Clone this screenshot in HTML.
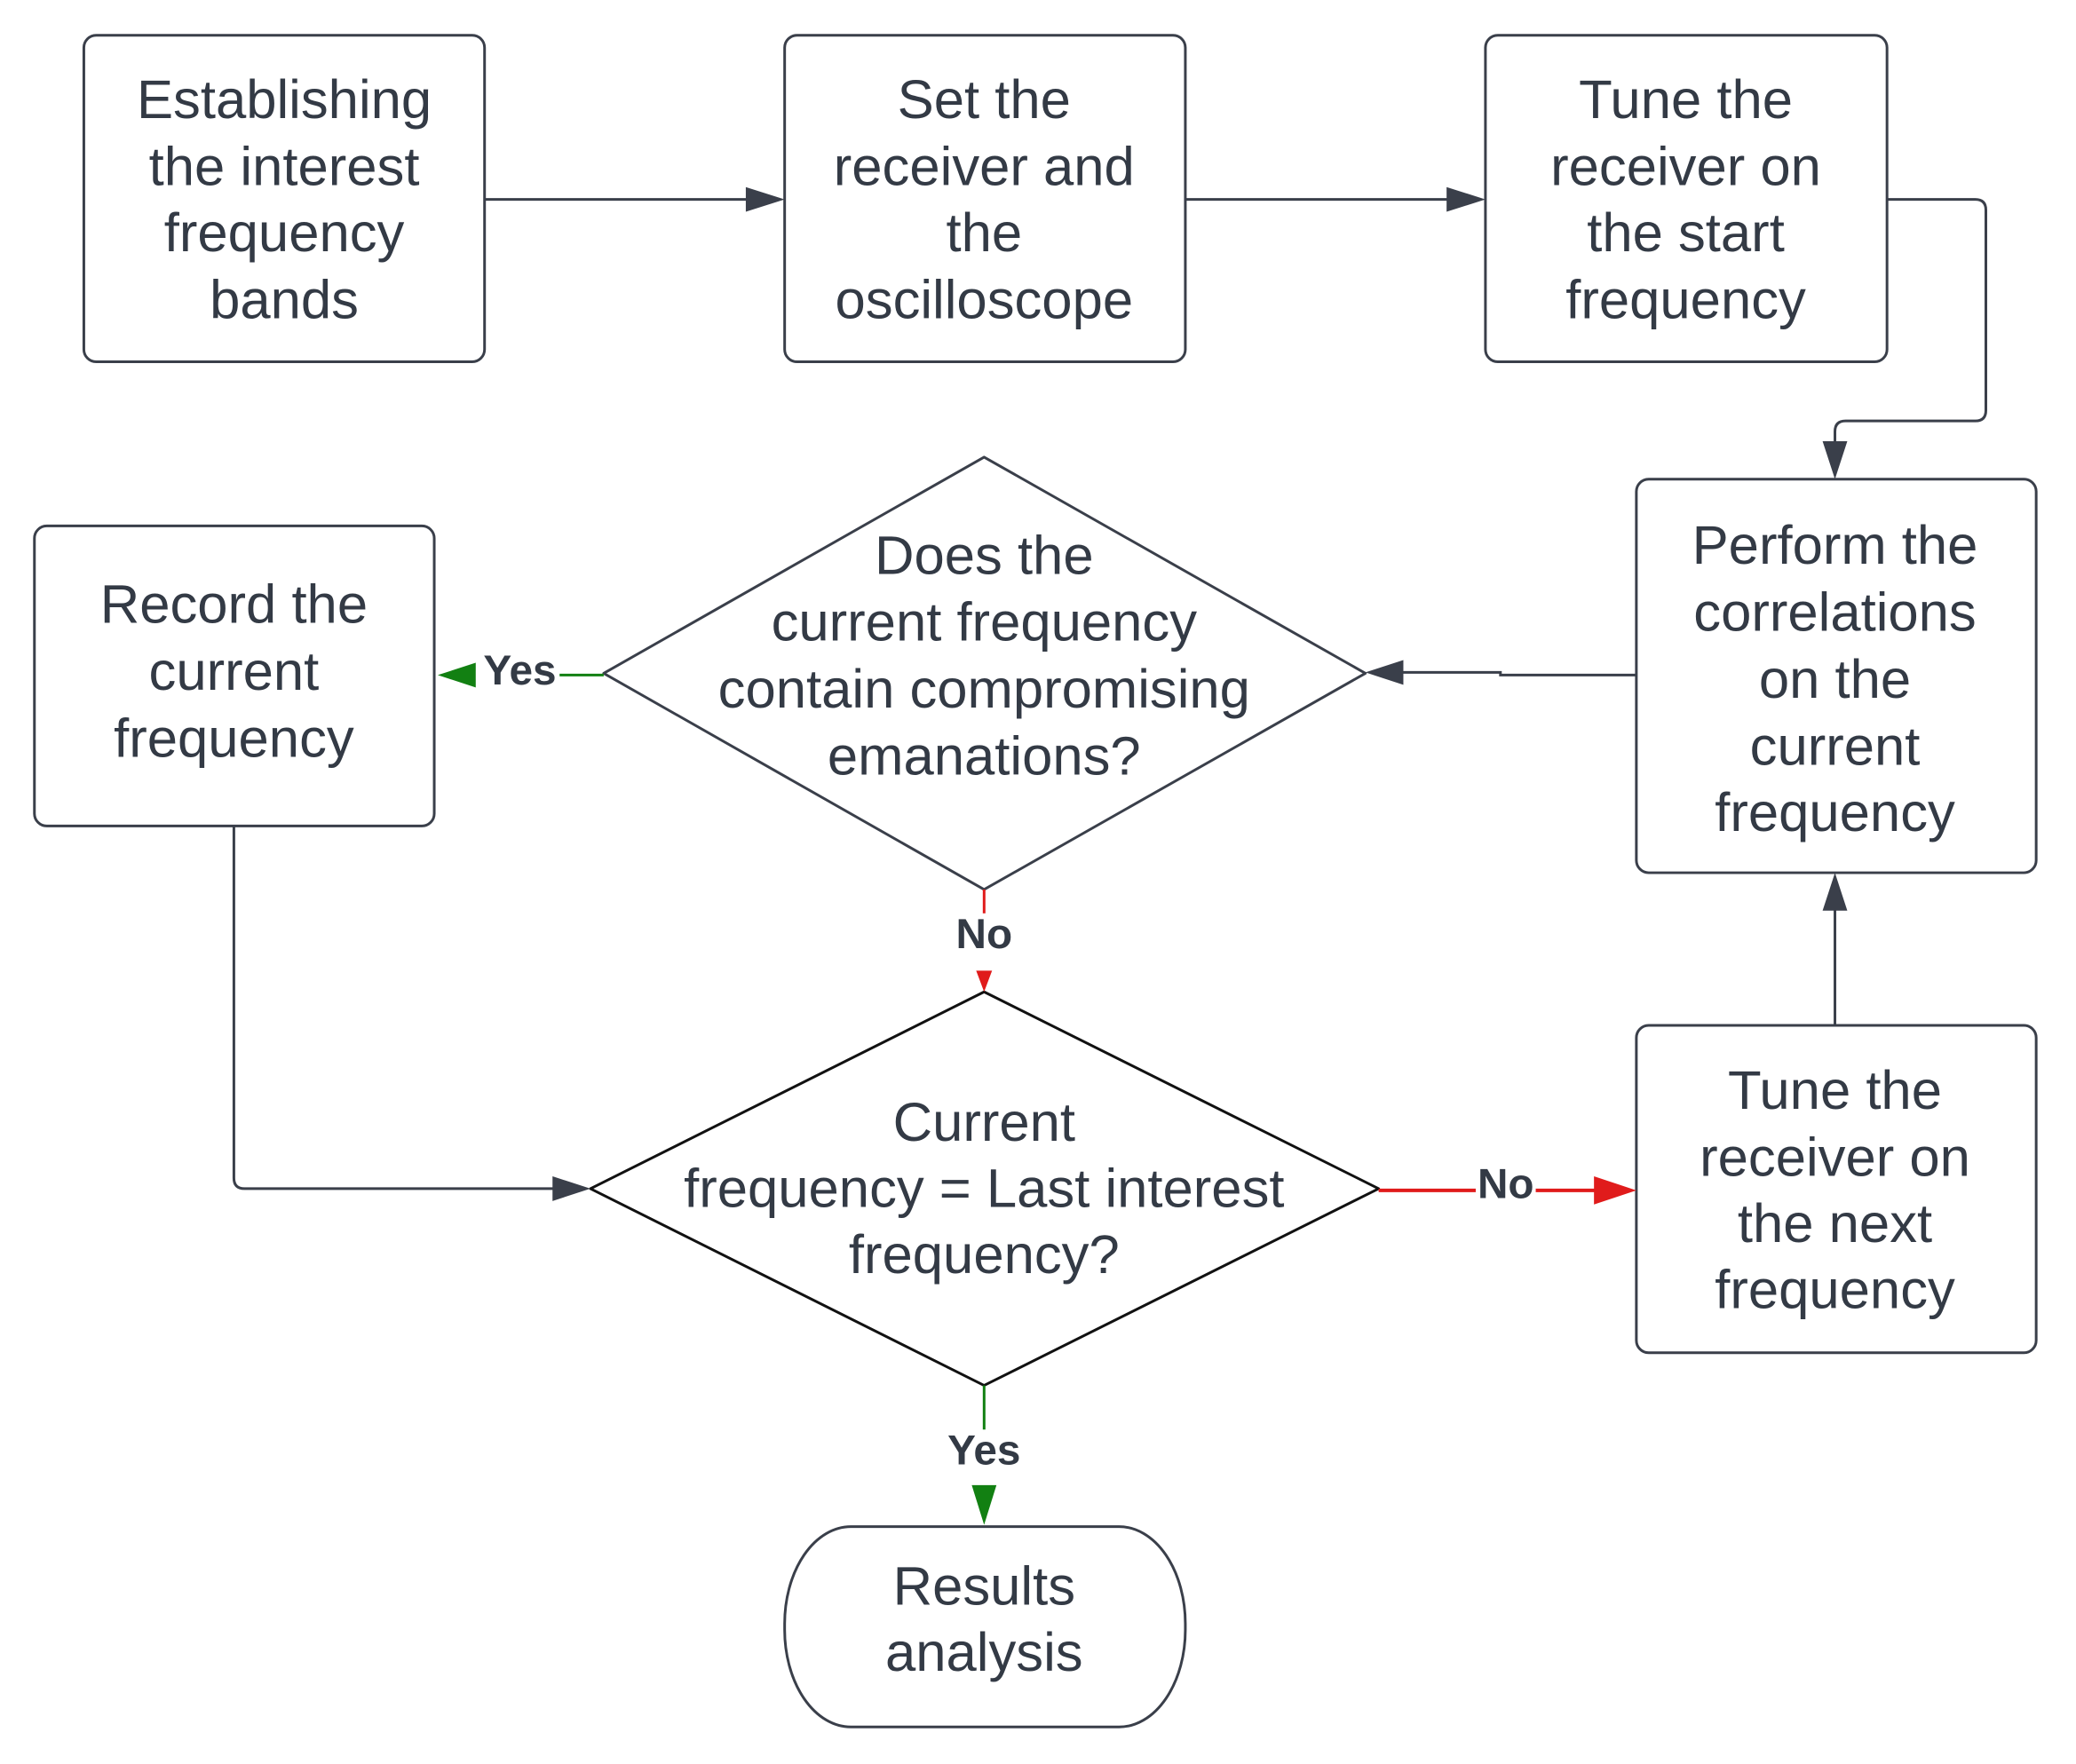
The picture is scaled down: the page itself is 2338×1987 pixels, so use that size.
<!DOCTYPE html>
<html><head><meta charset="utf-8"><style>
html,body{margin:0;padding:0;background:#fff;}
svg{display:block;}
text{font-family:"Liberation Sans",sans-serif;fill:#333a45;}
.t{font-size:62px;text-anchor:middle;dominant-baseline:central;}
.l{font-size:48px;font-weight:bold;text-anchor:middle;dominant-baseline:central;}
</style></head><body>
<svg width="2338" height="1987" viewBox="0 0 2338 1987" xmlns="http://www.w3.org/2000/svg">
<g transform="scale(0.994)">
<g fill="#fff" stroke="#3a3f4a" stroke-width="3">
<rect x="95" y="40" width="454" height="370" rx="14"/>
<rect x="889" y="40" width="454" height="370" rx="14"/>
<rect x="1683" y="40" width="455" height="370" rx="14"/>
<rect x="1854" y="543" width="453" height="446" rx="14"/>
<rect x="39" y="596" width="453" height="340" rx="14"/>
<rect x="1854" y="1162" width="453" height="371" rx="14"/>
<rect x="889" y="1730" width="454" height="227" rx="75" ry="110"/>
<polygon points="1115,518 1547,763 1115,1008 684,763" stroke-linejoin="round"/>
<polygon points="1115,1124 1562,1347 1115,1570 669,1347" stroke="#111" stroke-linejoin="round"/>
</g>
<g fill="none" stroke="#3a3f4a" stroke-width="3">
<path d="M549,226 H850"/>
<path d="M1343,226 H1645"/>
<path d="M2138,226 H2238 Q2250,226 2250,238 V465 Q2250,477 2238,477 H2091 Q2079,477 2079,489 V505"/>
<path d="M1854,765 H1700 V762 H1585"/>
<path d="M265,936 V1335 Q265,1347 277,1347 H630"/>
<path d="M2079,1162 V1028"/>
</g>
<g fill="#3a3f4a">
<polygon points="889,226 845,212 845,240"/>
<polygon points="1683,226 1639,212 1639,240"/>
<polygon points="2079,543 2065,500 2093,500"/>
<polygon points="1547,762 1590,748 1590,776"/>
<polygon points="669,1347 626,1333 626,1361"/>
<polygon points="2079,989 2065,1032 2093,1032"/>
</g>
<path d="M684,765 H634" stroke="#128012" stroke-width="3"/>
<polygon points="496,765 539,751 539,779" fill="#128012"/>
<path d="M1115,1008 V1035" stroke="#e01b1b" stroke-width="3"/>
<polygon points="1115,1124 1106,1100 1124,1100" fill="#e01b1b"/>
<path d="M1562,1349 H1672 M1740,1349 H1812" stroke="#e01b1b" stroke-width="4"/>
<polygon points="1854,1349 1806,1333 1806,1365" fill="#e01b1b"/>
<path d="M1115,1570 V1620" stroke="#128012" stroke-width="3"/>
<polygon points="1115,1728 1101,1683 1129,1683" fill="#128012"/>
<text class="l" x="589" y="760">Yes</text>
<text class="l" x="1115" y="1059">No</text>
<text class="l" x="1706" y="1342">No</text>
<text class="l" x="1115" y="1644">Yes</text>
<text class="t" x="322" y="113">Establishing</text>
<text class="t" x="322" y="189">the interest</text>
<text class="t" x="322" y="264">frequency</text>
<text class="t" x="322" y="340">bands</text>
<text class="t" x="1115" y="113">Set the</text>
<text class="t" x="1115" y="189">receiver and</text>
<text class="t" x="1115" y="264">the</text>
<text class="t" x="1115" y="340">oscilloscope</text>
<text class="t" x="1910" y="113">Tune the</text>
<text class="t" x="1910" y="189">receiver on</text>
<text class="t" x="1910" y="264">the start</text>
<text class="t" x="1910" y="340">frequency</text>
<text class="t" x="2079" y="618">Perform the</text>
<text class="t" x="2079" y="694">correlations</text>
<text class="t" x="2079" y="770">on the</text>
<text class="t" x="2079" y="846">current</text>
<text class="t" x="2079" y="921">frequency</text>
<text class="t" x="265" y="685">Record the</text>
<text class="t" x="265" y="761">current</text>
<text class="t" x="265" y="837">frequency</text>
<text class="t" x="1115" y="630">Does the</text>
<text class="t" x="1115" y="705">current frequency</text>
<text class="t" x="1115" y="781">contain compromising</text>
<text class="t" x="1115" y="857">emanations?</text>
<text class="t" x="1115" y="1272">Current</text>
<text class="t" x="1115" y="1347">frequency = Last interest</text>
<text class="t" x="1115" y="1422">frequency?</text>
<text class="t" x="2079" y="1236">Tune the</text>
<text class="t" x="2079" y="1312">receiver on</text>
<text class="t" x="2079" y="1387">the next</text>
<text class="t" x="2079" y="1462">frequency</text>
<text class="t" x="1115" y="1798">Results</text>
<text class="t" x="1115" y="1873">analysis</text>
</g>
</svg>
</body></html>
